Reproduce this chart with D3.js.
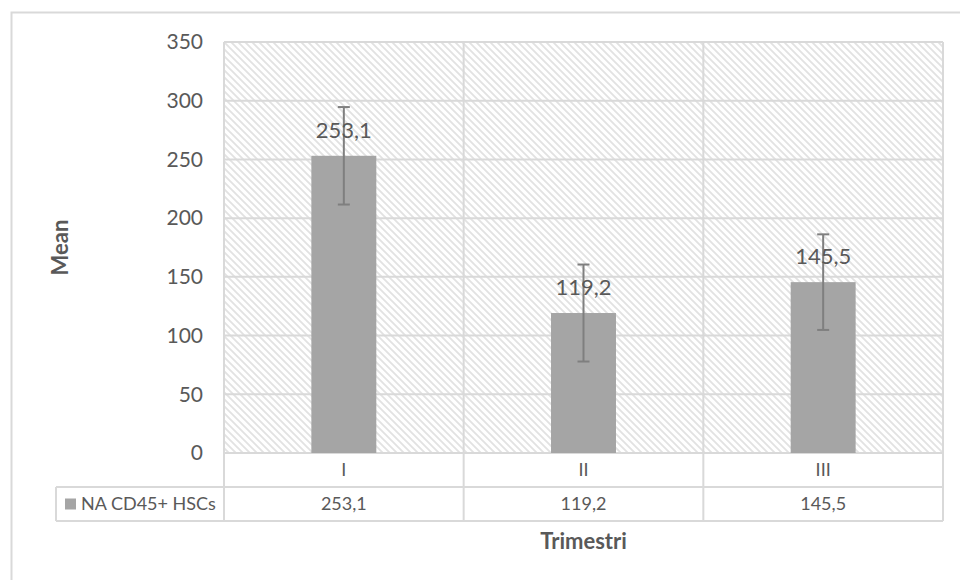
<!DOCTYPE html>
<html>
<head>
<meta charset="utf-8">
<script src="https://cdn.jsdelivr.net/npm/d3@7"></script>
<style>
  html, body { margin: 0; padding: 0; background: #fff; }
  svg { display: block; font-family: Lato, "Open Sans", sans-serif; }
</style>
</head>
<body>
<svg id="chart" width="960" height="580"></svg>
<script>
// Chart data
const categories = ["I", "II", "III"];
const means = [253.1, 119.2, 145.5];
const errors = [41.5, 41.3, 40.7];
const meanLabels = ["253,1", "119,2", "145,5"];
const yTicks = [0, 50, 100, 150, 200, 250, 300, 350];
const seriesName = "NA CD45+ HSCs";
const xTitle = "Trimestri";
const yTitle = "Mean";

const svg = d3.select("#chart");
const grid = "#d9d9d9";
const textCol = "#595959";
const barCol = "#a5a5a5";

const plot = { left: 224, right: 943, top: 42, bottom: 453 };
const rowH = 34;
const legendLeft = 56;

// Hatched background pattern
const defs = svg.append("defs");
const pat = defs.append("pattern")
  .attr("id", "hatch")
  .attr("patternUnits", "userSpaceOnUse")
  .attr("width", 7).attr("height", 7);
pat.append("rect").attr("width", 7).attr("height", 7).attr("fill", "#fff");
pat.append("path")
  .attr("d", "M-1,-1 L8,8 M-8,-1 L1,8 M6,-1 L15,8")
  .attr("stroke", "#e2e2e2").attr("stroke-width", 1.8);

// Outer chart frame (extends past the visible area)
svg.append("rect")
  .attr("x", 11.5).attr("y", 12.5)
  .attr("width", 1000).attr("height", 700)
  .attr("fill", "none").attr("stroke", grid).attr("stroke-width", 2);

const x = d3.scaleBand()
  .domain(categories)
  .range([plot.left, plot.right])
  .paddingInner(0.729)
  .paddingOuter(0.3645);

const y = d3.scaleLinear()
  .domain([0, 350])
  .range([plot.bottom, plot.top]);

// Plot background
svg.append("rect")
  .attr("x", plot.left).attr("y", plot.top)
  .attr("width", plot.right - plot.left).attr("height", plot.bottom - plot.top)
  .attr("fill", "url(#hatch)");

// Horizontal gridlines
svg.append("g")
  .selectAll("line")
  .data(yTicks)
  .join("line")
  .attr("x1", plot.left).attr("x2", plot.right)
  .attr("y1", d => y(d)).attr("y2", d => y(d))
  .attr("stroke", grid).attr("stroke-width", 2);

// Category boundaries, running down through the data table
const step = x.step();
const bounds = d3.range(categories.length + 1).map(i => plot.left + i * step);
svg.append("g")
  .selectAll("line")
  .data(bounds)
  .join("line")
  .attr("x1", d => d).attr("x2", d => d)
  .attr("y1", plot.top).attr("y2", plot.bottom + 2 * rowH)
  .attr("stroke", grid).attr("stroke-width", 2);

// Table rows
[plot.bottom + rowH, plot.bottom + 2 * rowH].forEach(yy => {
  svg.append("line")
    .attr("x1", legendLeft).attr("x2", plot.right)
    .attr("y1", yy).attr("y2", yy)
    .attr("stroke", grid).attr("stroke-width", 2);
});
svg.append("line")
  .attr("x1", legendLeft).attr("x2", legendLeft)
  .attr("y1", plot.bottom + rowH).attr("y2", plot.bottom + 2 * rowH)
  .attr("stroke", grid).attr("stroke-width", 2);

// Bars
svg.append("g")
  .selectAll("rect")
  .data(categories)
  .join("rect")
  .attr("x", d => x(d))
  .attr("y", (d, i) => y(means[i]))
  .attr("width", x.bandwidth())
  .attr("height", (d, i) => y(0) - y(means[i]))
  .attr("fill", barCol);

// Error bars
const eb = svg.append("g").attr("stroke", "#7f7f7f").attr("stroke-width", 2);
categories.forEach((c, i) => {
  const cx = x(c) + x.bandwidth() / 2;
  const hi = y(means[i] + errors[i]);
  const lo = y(means[i] - errors[i]);
  eb.append("line").attr("x1", cx).attr("x2", cx).attr("y1", hi).attr("y2", lo);
  eb.append("line").attr("x1", cx - 6).attr("x2", cx + 6).attr("y1", hi).attr("y2", hi);
  eb.append("line").attr("x1", cx - 6).attr("x2", cx + 6).attr("y1", lo).attr("y2", lo);
});

// Value labels above bars
svg.append("g")
  .selectAll("text")
  .data(categories)
  .join("text")
  .attr("x", d => x(d) + x.bandwidth() / 2)
  .attr("y", (d, i) => y(means[i]) - 18)
  .attr("text-anchor", "middle")
  .attr("font-size", 22)
  .attr("fill", textCol)
  .text((d, i) => meanLabels[i]);

// Y axis tick labels
const yAxis = d3.axisLeft(y).tickValues(yTicks).tickSize(0).tickPadding(0).tickFormat(d3.format("d"));
const yg = svg.append("g").attr("transform", "translate(203,0)").call(yAxis);
yg.select(".domain").remove();
yg.selectAll("text").attr("font-size", 21).attr("fill", textCol).attr("font-family", "Lato, sans-serif");

// Category labels (first table row)
const xAxis = d3.axisBottom(x).tickSize(0).tickPadding(0);
const xg = svg.append("g").attr("transform", `translate(0,${plot.bottom + rowH / 2})`).call(xAxis);
xg.select(".domain").remove();
xg.selectAll("text").attr("font-size", 18).attr("fill", textCol)
  .attr("font-family", "Lato, sans-serif").attr("dy", "0.35em");

// Data row values
svg.append("g")
  .selectAll("text")
  .data(categories)
  .join("text")
  .attr("x", d => x(d) + x.bandwidth() / 2)
  .attr("y", plot.bottom + rowH * 1.5)
  .attr("dy", "0.35em")
  .attr("text-anchor", "middle")
  .attr("font-size", 18)
  .attr("fill", textCol)
  .text((d, i) => meanLabels[i]);

// Legend key in the table
svg.append("rect")
  .attr("x", 65).attr("y", plot.bottom + rowH * 1.5 - 5.5)
  .attr("width", 11).attr("height", 11)
  .attr("fill", barCol);
svg.append("text")
  .attr("x", 81).attr("y", plot.bottom + rowH * 1.5)
  .attr("dy", "0.35em")
  .attr("font-size", 18)
  .attr("fill", textCol)
  .text(seriesName);

// Axis titles
svg.append("text")
  .attr("transform", `translate(68,${(plot.top + plot.bottom) / 2}) rotate(-90)`)
  .attr("text-anchor", "middle")
  .attr("font-size", 22).attr("font-weight", "bold")
  .attr("fill", textCol)
  .text(yTitle);

svg.append("text")
  .attr("x", (plot.left + plot.right) / 2)
  .attr("y", 549)
  .attr("text-anchor", "middle")
  .attr("font-size", 22).attr("font-weight", "bold")
  .attr("fill", textCol)
  .text(xTitle);
</script>
</body>
</html>
